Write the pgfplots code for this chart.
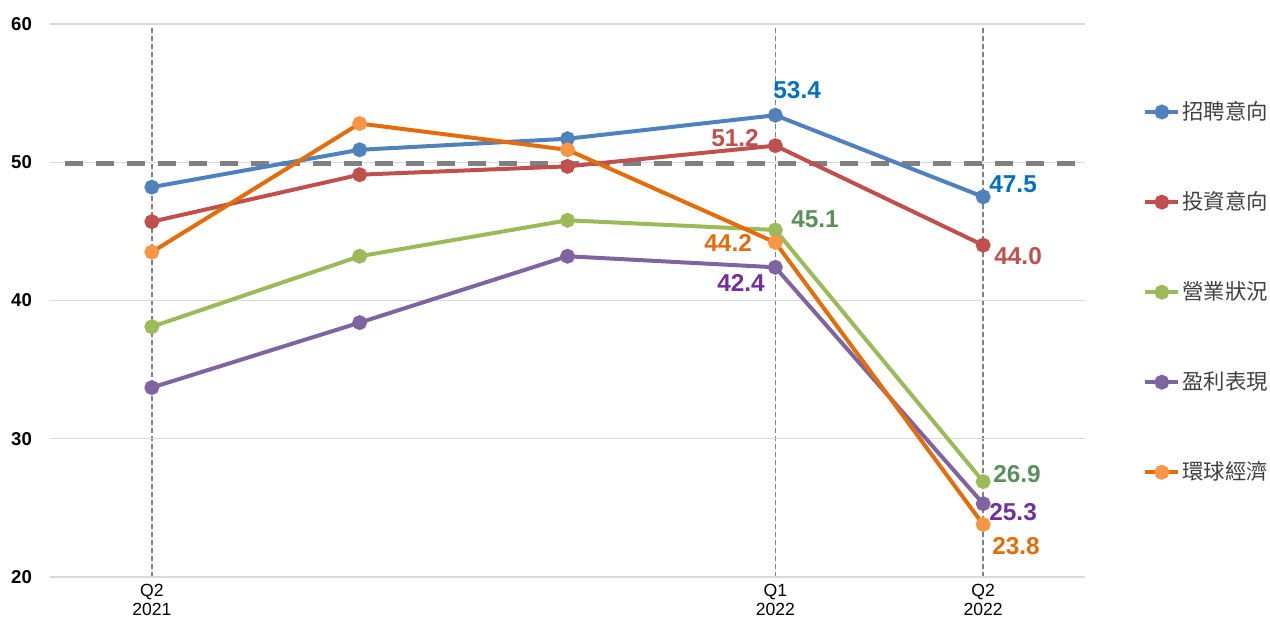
\documentclass[border=0pt]{standalone}
\usepackage{fontspec}
\setmainfont{Liberation Sans}
\newfontfamily\cjk{Noto Sans CJK TC}
\usepackage{pgfplots}
\pgfplotsset{compat=1.18}
\usetikzlibrary{calc}

\definecolor{sblue}{HTML}{4F81BD}
\definecolor{sred}{HTML}{C0504D}
\definecolor{sgreen}{HTML}{9BBB59}
\definecolor{spurple}{HTML}{8064A2}
\definecolor{sorange}{HTML}{E46C0A}
\definecolor{sorangemk}{HTML}{F79646}
\definecolor{lblue}{HTML}{0070C0}
\definecolor{lgreen}{HTML}{5B8F5B}
\definecolor{lpurple}{HTML}{7030A0}
\definecolor{gridgray}{HTML}{D9D9D9}

\begin{document}
\begin{tikzpicture}
\begin{axis}[
    scale only axis,
    width=517.5pt, height=276.5pt,
    xmin=-0.49, xmax=4.49,
    ymin=20, ymax=60,
    ytick={20,30,40,50,60},
    xtick={0,3,4},
    xticklabels={{Q2\\2021},{Q1\\2022},{Q2\\2022}},
    xticklabel style={align=center, font=\fontsize{8.8}{9.6}\selectfont},
    yticklabel style={font=\fontsize{9.3}{10}\selectfont\bfseries, xshift=-5.5pt},
    /pgf/number format/assume math mode=true,
    axis line style={draw=none},
    major tick style={draw=none},
    ymajorgrids, xmajorgrids,
    y grid style={gridgray, line width=0.6pt},
    x grid style={gray, line width=0.7pt, dash pattern=on 2.5pt off 1.5pt},
    legend cell align=left,
    legend style={draw=none, fill=none, at={(rel axis cs:1.056,0.868)}, anchor=north west,
        font=\cjk\fontsize{10.7}{12}\selectfont, text=black!75,
        row sep=30.5pt, inner sep=0pt,
        nodes={inner xsep=1pt}},
    legend image code/.code={\draw[mark repeat=2,mark phase=2,#1] plot coordinates {(0pt,0pt)(8.25pt,0pt)(16.5pt,0pt)};},
    every axis plot/.append style={line width=2pt, mark=*, mark size=2.7pt},
]
\addplot[gray, line width=2.5pt, dash pattern=on 9pt off 6.5pt, mark=none, forget plot]
    coordinates {(-0.42,49.9) (4.44,49.9)};

\addplot[sblue, mark options={fill=sblue, draw=sblue}] coordinates {
    (0,48.2) (1,50.9) (2,51.7) (3,53.4) (4,47.5)};
\addlegendentry{招聘意向}
\addplot[sred, mark options={fill=sred, draw=sred}] coordinates {
    (0,45.7) (1,49.1) (2,49.7) (3,51.2) (4,44.0)};
\addlegendentry{投資意向}
\addplot[sgreen, mark options={fill=sgreen, draw=sgreen}] coordinates {
    (0,38.1) (1,43.2) (2,45.8) (3,45.1) (4,26.9)};
\addlegendentry{營業狀況}
\addplot[spurple, mark options={fill=spurple, draw=spurple}] coordinates {
    (0,33.7) (1,38.4) (2,43.2) (3,42.4) (4,25.3)};
\addlegendentry{盈利表現}
\addplot[sorange, mark options={fill=sorangemk, draw=sorangemk}] coordinates {
    (0,43.5) (1,52.8) (2,50.9) (3,44.2) (4,23.8)};
\addlegendentry{環球經濟}

% data labels
\begin{scope}[every node/.style={font=\fontsize{12.2}{13}\selectfont\bfseries}]
\node[text=lblue] at (axis cs:3.105,55.2) {53.4};
\node[text=lblue] at (axis cs:4.144,48.43) {47.5};
\node[text=sred] at (axis cs:2.806,51.75) {51.2};
\node[text=sred] at (axis cs:4.168,43.22) {44.0};
\node[text=lgreen] at (axis cs:3.191,45.9) {45.1};
\node[text=lgreen] at (axis cs:4.163,27.45) {26.9};
\node[text=lpurple] at (axis cs:2.835,41.27) {42.4};
\node[text=lpurple] at (axis cs:4.144,24.7) {25.3};
\node[text=sorange] at (axis cs:2.773,44.16) {44.2};
\node[text=sorange] at (axis cs:4.158,22.24) {23.8};
\end{scope}

\coordinate (bl) at (rel axis cs:0,0);
\coordinate (tr) at (rel axis cs:1,1);
\end{axis}
\pgfresetboundingbox
\path[use as bounding box] ($(bl)+(-25pt,-20pt)$) rectangle ($(tr)+(92.5pt,12pt)$);
\end{tikzpicture}
\end{document}
